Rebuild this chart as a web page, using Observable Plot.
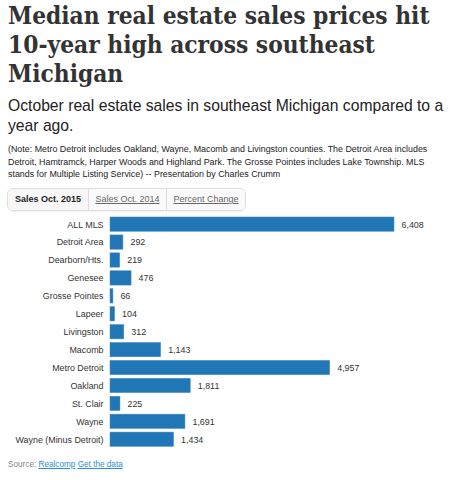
<!DOCTYPE html>
<html>
<head>
<meta charset="utf-8">
<script src="https://cdn.jsdelivr.net/npm/d3@7"></script>
<script src="https://cdn.jsdelivr.net/npm/@observablehq/plot@0.6"></script>
<style>
  html, body { margin: 0; padding: 0; background: #fff; }
  body { width: 451px; height: 480px; overflow: hidden; position: relative; color: #333; }
  #title { position: absolute; left: 8px; top: 1px; width: 443px; font-family: "DejaVu Serif Condensed", "DejaVu Serif", serif; font-stretch: condensed; font-weight: bold; font-size: 26px; line-height: 29px; color: #333; margin: 0; white-space: nowrap; }
  #subtitle { position: absolute; left: 8px; top: 96px; width: 443px; font-family: "Liberation Sans", Arial, sans-serif; font-size: 15.7px; line-height: 20px; color: #222; margin: 0; white-space: nowrap; }
  #note { position: absolute; left: 8px; top: 143px; width: 440px; font-family: "Liberation Sans", Arial, sans-serif; font-size: 8.9px; line-height: 12.5px; color: #222; margin: 0; }
  #tabs { position: absolute; left: 7px; top: 188px; display: flex; border: 1px solid #ddd; border-radius: 6px; overflow: hidden; font-family: "Liberation Sans", Arial, sans-serif; font-size: 9px; height: 21px; box-shadow: 0 1px 1px rgba(0,0,0,0.05); }
  #tabs div { line-height: 21px; border-left: 1px solid #ddd; color: #666; text-decoration: underline; background: #fafafa; text-align: center; }
  #tabs div.active { border-left: none; font-weight: bold; color: #222; text-decoration: none; background: #f7f7f7; }
  #chart { position: absolute; left: 0; top: 210px; }
  #source { position: absolute; left: 8px; top: 460px; font-family: "Liberation Sans", Arial, sans-serif; font-size: 8.2px; color: #888; }
  #source a { color: #2a8fd6; text-decoration: underline; }
</style>
</head>
<body>
<h1 id="title">Median real estate sales prices hit<br>10-year high across southeast<br>Michigan</h1>
<p id="subtitle">October real estate sales in southeast Michigan compared to a<br>year ago.</p>
<p id="note">(Note: Metro Detroit includes Oakland, Wayne, Macomb and Livingston counties. The Detroit Area includes Detroit, Hamtramck, Harper Woods and Highland Park. The Grosse Pointes includes Lake Township. MLS stands for Multiple Listing Service) -- Presentation by Charles Crumm</p>
<div id="tabs"><div class="active" style="width:80px">Sales Oct. 2015</div><div style="width:77px">Sales Oct. 2014</div><div style="width:78px">Percent Change</div></div>
<div id="chart"></div>
<div id="source">Source: <a>Realcomp</a> <a>Get the data</a></div>
<script>
const areas = ["ALL MLS", "Detroit Area", "Dearborn/Hts.", "Genesee", "Grosse Pointes", "Lapeer", "Livingston", "Macomb", "Metro Detroit", "Oakland", "St. Clair", "Wayne", "Wayne (Minus Detroit)"];
const sales2015 = [6408, 292, 219, 476, 66, 104, 312, 1143, 4957, 1811, 225, 1691, 1434];

const data = areas.map((a, i) => ({area: a, value: sales2015[i]}));
const fmt = d3.format(",");

// fit title lines to reference width
(function fitTitle() {
  const el = document.getElementById("title");
  const target = 422;
  let size = 26;
  el.style.fontSize = size + "px";
  const w = el.scrollWidth;
  if (w > 0) {
    size = size * target / w;
    el.style.fontSize = size.toFixed(2) + "px";
  }
})();

const chart = Plot.plot({
  width: 451,
  height: 243,
  marginLeft: 110,
  marginRight: 57,
  marginTop: 3.4,
  marginBottom: 3,
  style: {fontFamily: "Liberation Sans, Arial, sans-serif", fontSize: "8.9px", color: "#333", background: "transparent"},
  x: {domain: [0, 6408], axis: null},
  y: {domain: areas, padding: 0.2, round: false, label: null, tickSize: 0, tickPadding: 7},
  marks: [
    Plot.barX(data, {x: "value", y: "area", fill: "#2176b5", stroke: "#4a90c8", strokeWidth: 0.5}),
    Plot.text(data, {x: "value", y: "area", text: d => fmt(d.value), textAnchor: "start", dx: 7, fill: "#333", fontSize: 8.9})
  ]
});
document.getElementById("chart").appendChild(chart);
</script>
</body>
</html>
